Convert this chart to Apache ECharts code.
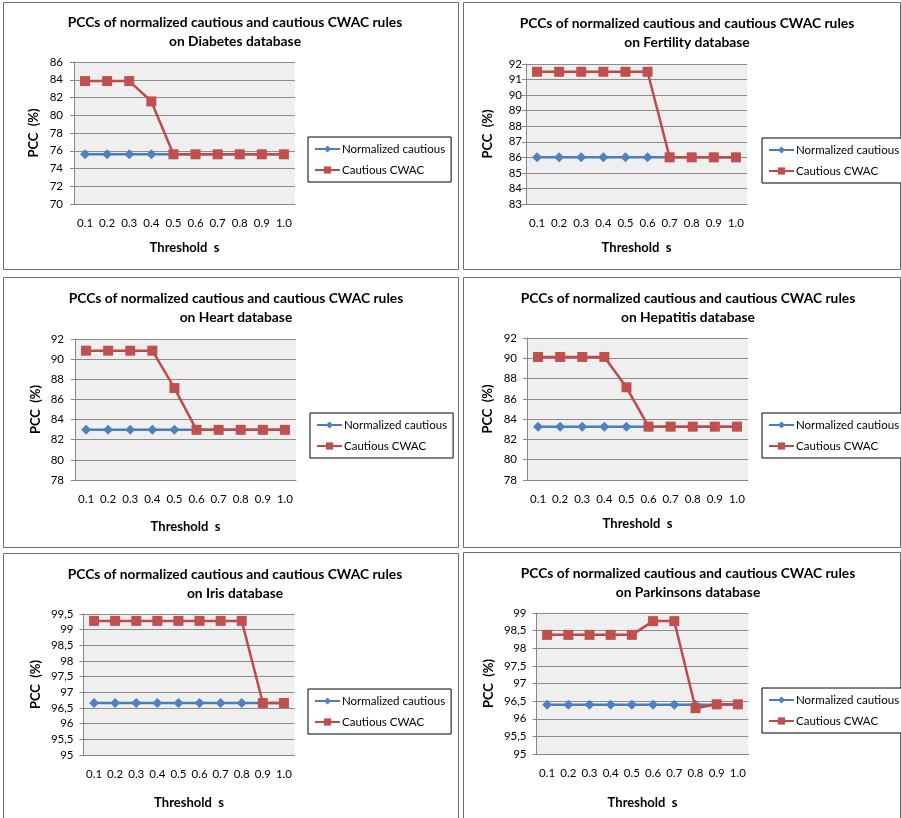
<!DOCTYPE html>
<html>
<head>
<meta charset="utf-8">
<script src="https://cdn.jsdelivr.net/npm/echarts@6/dist/echarts.min.js"></script>
<style>
html,body{margin:0;padding:0;background:#fff;}
#c{width:901px;height:818px;}
</style>
</head>
<body>
<div id="c"></div>
<script>
// ---- data ----
const categories = ['0.1','0.2','0.3','0.4','0.5','0.6','0.7','0.8','0.9','1.0'];
const seriesNames = ['Normalized cautious', 'Cautious CWAC'];
const databases = ['Diabetes', 'Fertility', 'Heart', 'Hepatitis', 'Iris', 'Parkinsons'];

const diabetesNormalized = [75.6, 75.6, 75.6, 75.6, 75.6, 75.6, 75.6, 75.6, 75.6, 75.6];
const diabetesCwac       = [83.85, 83.85, 83.85, 81.56, 75.6, 75.6, 75.6, 75.6, 75.6, 75.6];
const fertilityNormalized = [86, 86, 86, 86, 86, 86, 86, 86, 86, 86];
const fertilityCwac       = [91.5, 91.5, 91.5, 91.5, 91.5, 91.5, 86, 86, 86, 86];
const heartNormalized = [82.98, 82.98, 82.98, 82.98, 82.98, 82.98, 82.98, 82.98, 82.98, 82.98];
const heartCwac       = [90.84, 90.84, 90.84, 90.84, 87.13, 82.98, 82.98, 82.98, 82.98, 82.98];
const hepatitisNormalized = [83.26, 83.26, 83.26, 83.26, 83.26, 83.26, 83.26, 83.26, 83.26, 83.26];
const hepatitisCwac       = [90.13, 90.13, 90.13, 90.13, 87.14, 83.26, 83.26, 83.26, 83.26, 83.26];
const irisNormalized = [96.66, 96.66, 96.66, 96.66, 96.66, 96.66, 96.66, 96.66, 96.66, 96.66];
const irisCwac       = [99.28, 99.28, 99.28, 99.28, 99.28, 99.28, 99.28, 99.28, 96.66, 96.66];
const parkinsonsNormalized = [96.4, 96.4, 96.4, 96.4, 96.4, 96.4, 96.4, 96.4, 96.4, 96.4];
const parkinsonsCwac       = [98.38, 98.38, 98.38, 98.38, 98.38, 98.77, 98.77, 96.30, 96.41, 96.41];

// y-axis ranges: [min, max, interval]
const yRanges = [[70, 86, 2], [83, 92, 1], [78, 92, 2], [78, 92, 2], [95, 99.5, 0.5], [95, 99, 0.5]];
const commaDecimal = [false, false, false, false, true, true];

const normalizedSets = [diabetesNormalized, fertilityNormalized, heartNormalized, hepatitisNormalized, irisNormalized, parkinsonsNormalized];
const cwacSets = [diabetesCwac, fertilityCwac, heartCwac, hepatitisCwac, irisCwac, parkinsonsCwac];

// ---- layout (pixels) ----
const panels = [
  {box:[3,2,455,267],   grid:[74,62,221,142],   title:[235,23], legend:[308,137], yName:33,  xName:248, lm:11},
  {box:[463,2,437,267], grid:[526,64,221,140],  title:[687,24], legend:[762,138], yName:487, xName:248, lm:4},
  {box:[3,277,455,270], grid:[75,339,221,141],  title:[236,299], legend:[310,413], yName:35, xName:527, lm:11},
  {box:[463,277,437,270], grid:[527,338,221,142], title:[688,299], legend:[762,413], yName:487, xName:524, lm:10},
  {box:[3,553,455,280], grid:[83.5,614,211,141], title:[235,575], legend:[308,689], yName:35, xName:803, lm:10},
  {box:[463,552,437,280], grid:[536.5,613,212,141], title:[688,574], legend:[762,688], yName:488, xName:803, lm:10}
];

const FONT = 'Lato, "Open Sans", sans-serif';
const BLUE = '#4f81bd', BLUE_LINE = '#4a7ebb';
const RED = '#c0504d', RED_LINE = '#be4b48';

const grids = [], xAxes = [], yAxes = [], series = [], legends = [], graphics = [];

panels.forEach((p, i) => {
  graphics.push({
    type: 'rect', z: -10, silent: true,
    shape: {x: p.box[0] + 0.5, y: p.box[1] + 0.5, width: p.box[2], height: p.box[3]},
    style: {fill: '#ffffff', stroke: '#6d6d6d', lineWidth: 1}
  });
  graphics.push({
    type: 'text', z: 10, silent: true,
    style: {
      text: 'PCCs of normalized cautious and cautious CWAC rules',
      x: p.title[0], y: p.title[1], align: 'center', verticalAlign: 'middle',
      textAlign: 'center', textVerticalAlign: 'middle',
      font: 'bold 13.8px ' + FONT, fill: '#000'
    }
  });
  graphics.push({
    type: 'text', z: 10, silent: true,
    style: {
      text: 'on ' + databases[i] + ' database',
      x: p.title[0], y: p.title[1] + 19, align: 'center', verticalAlign: 'middle',
      textAlign: 'center', textVerticalAlign: 'middle',
      font: 'bold 13.8px ' + FONT, fill: '#000'
    }
  });

  grids.push({
    left: p.grid[0], top: p.grid[1], width: p.grid[2], height: p.grid[3],
    show: true, backgroundColor: '#efefef', borderWidth: 0, containLabel: false
  });
  xAxes.push({
    type: 'category', gridIndex: i, data: categories, boundaryGap: true,
    axisLine: {show: true, lineStyle: {color: '#868686', width: 1}},
    axisTick: {show: false},
    axisLabel: {color: '#000', fontFamily: FONT, fontSize: 11.5, margin: 13, interval: 0},
    splitLine: {show: false},
    name: 'Threshold  s', nameLocation: 'middle', nameGap: p.xName - (p.grid[1] + p.grid[3]) - 7,
    nameTextStyle: {color: '#000', fontFamily: FONT, fontSize: 13, fontWeight: 'bold'}
  });
  const r = yRanges[i];
  const comma = commaDecimal[i];
  yAxes.push({
    type: 'value', gridIndex: i, min: r[0], max: r[1], interval: r[2],
    axisLine: {show: true, lineStyle: {color: '#868686', width: 1}},
    axisTick: {show: true, length: 4, lineStyle: {color: '#868686'}},
    axisLabel: {
      color: '#000', fontFamily: FONT, fontSize: 11.5, margin: p.lm,
      formatter: v => comma ? String(v).replace('.', ',') : String(v)
    },
    splitLine: {show: true, lineStyle: {color: '#8c8c8c', width: 1}},
    name: 'PCC  (%)', nameLocation: 'middle', nameRotate: 90,
    nameGap: p.grid[0] - p.yName - 7,
    nameTextStyle: {color: '#000', fontFamily: FONT, fontSize: 13, fontWeight: 'bold'}
  });
  series.push({
    name: seriesNames[0], type: 'line', xAxisIndex: i, yAxisIndex: i,
    data: normalizedSets[i], symbol: 'diamond', symbolSize: 10,
    itemStyle: {color: BLUE}, lineStyle: {color: BLUE_LINE, width: 2.5},
    z: 3, animation: false
  });
  series.push({
    name: seriesNames[1], type: 'line', xAxisIndex: i, yAxisIndex: i,
    data: cwacSets[i], symbol: 'rect', symbolSize: 10,
    itemStyle: {color: RED}, lineStyle: {color: RED_LINE, width: 2.5},
    z: 4, animation: false
  });
  legends.push({
    data: seriesNames, orient: 'vertical', left: p.legend[0], top: p.legend[1],
    backgroundColor: '#fff', borderColor: '#000', borderWidth: 1,
    padding: [6, 6, 6, 6], itemGap: 9, itemWidth: 25, itemHeight: 9,
    textStyle: {color: '#000', fontFamily: FONT, fontSize: 11.5, padding: [0, 0, 0, -3]},
    selectedMode: false
  });
});

const chart = echarts.init(document.getElementById('c'), null, {renderer: 'canvas'});
chart.setOption({
  backgroundColor: '#ffffff',
  animation: false,
  grid: grids, xAxis: xAxes, yAxis: yAxes, series: series, legend: legends,
  graphic: graphics
});
</script>
</body>
</html>
